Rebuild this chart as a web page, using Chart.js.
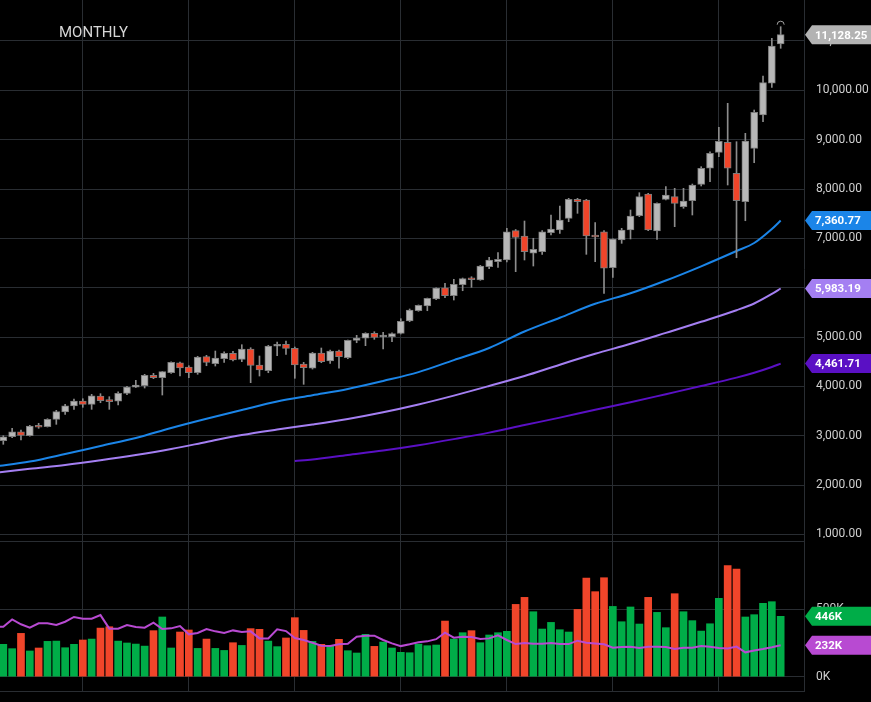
<!DOCTYPE html>
<html>
<head>
<meta charset="utf-8">
<script src="https://cdn.jsdelivr.net/npm/chart.js@4.4.1/dist/chart.umd.min.js"></script>
<style>
  html, body { margin: 0; padding: 0; background: #000; }
  #wrap { position: relative; width: 871px; height: 702px; overflow: hidden; background: #000; }
  #priceChart { position: absolute; left: 0; top: 0; }
  #volChart { position: absolute; left: 0; top: 538px; }
  #title { position: absolute; left: 59px; top: 25px; font: 15px Roboto, sans-serif; line-height: 15px; color: #d6d6d6; }
</style>
</head>
<body>
<div id="wrap">
  <canvas id="priceChart" width="871" height="538"></canvas>
  <canvas id="volChart" width="871" height="164"></canvas>
  <div id="title">MONTHLY</div>
</div>
<script>
// monthly candles, index 0 = first visible month
const opens = [2898, 2979, 3080, 2999, 3202, 3182, 3332, 3480, 3601, 3703,
  3636, 3804, 3717, 3697, 3859, 3981, 4013, 4224, 4175, 4276,
  4479, 4392, 4276, 4601, 4459, 4560, 4669, 4548, 4757, 4432,
  4317, 4812, 4852, 4771, 4453, 4366, 4676, 4514, 4716, 4580,
  4933, 4974, 5075, 5000, 5006, 5075, 5324, 5533, 5628, 5770,
  5999, 5837, 6060, 6190, 6155, 6425, 6526, 6561, 7155, 7047,
  6697, 6729, 7114, 7169, 7406, 7791, 7777, 7047, 7134, 6405,
  6966, 7169, 7459, 7899, 7149, 7791, 7844, 7641, 7763, 8095,
  8420, 8744, 8947, 8318, 7743, 8825, 9500, 10143, 10939];
const highs = [2999, 3149, 3115, 3210, 3251, 3344, 3514, 3636, 3743, 3749,
  3838, 3851, 3790, 3891, 4001, 4122, 4244, 4264, 4300, 4499,
  4493, 4418, 4609, 4629, 4716, 4702, 4710, 4844, 4783, 4615,
  4832, 4899, 4919, 4797, 4487, 4690, 4777, 4737, 4737, 4939,
  5034, 5087, 5107, 5095, 5087, 5371, 5568, 5650, 5790, 5999,
  6088, 6170, 6196, 6222, 6453, 6616, 6709, 7203, 7179, 7351,
  7001, 7155, 7473, 7655, 7811, 7811, 7791, 7317, 7155, 6990,
  7203, 7574, 7925, 7913, 7722, 8047, 8014, 8014, 8101, 8452,
  8756, 9251, 9737, 8959, 9129, 9601, 10290, 11055, 11290];
const lows = [2825, 2959, 2912, 2990, 3149, 3175, 3230, 3433, 3534, 3575,
  3534, 3668, 3534, 3622, 3831, 3975, 3966, 4155, 3824, 4264,
  4209, 4175, 4244, 4418, 4412, 4487, 4514, 4500, 4074, 4209,
  4276, 4621, 4649, 4163, 4041, 4350, 4479, 4467, 4366, 4560,
  4884, 4824, 4953, 4757, 4905, 5061, 5310, 5521, 5533, 5756,
  5797, 5750, 5938, 6007, 6149, 6384, 6413, 6520, 6324, 6561,
  6439, 6676, 7068, 7102, 7337, 7507, 6676, 6526, 5886, 6210,
  6899, 6987, 7439, 7155, 6980, 7777, 7236, 7609, 7473, 8061,
  8148, 8655, 8081, 6607, 7357, 8533, 9364, 10061, 10852];
const closes = [2979, 3080, 3007, 3196, 3170, 3332, 3486, 3607, 3703, 3636,
  3810, 3709, 3689, 3859, 3987, 4027, 4224, 4175, 4297, 4487,
  4372, 4276, 4595, 4487, 4574, 4669, 4534, 4757, 4426, 4331,
  4818, 4844, 4771, 4432, 4378, 4676, 4500, 4716, 4601, 4933,
  4980, 5075, 4994, 5020, 5067, 5318, 5547, 5642, 5784, 5993,
  5837, 6068, 6182, 6161, 6439, 6561, 6575, 7134, 7021, 6729,
  6778, 7134, 7189, 7372, 7791, 7743, 7047, 7027, 6393, 6986,
  7169, 7453, 7844, 7169, 7710, 7878, 7710, 7757, 8081, 8420,
  8724, 8967, 8420, 7763, 8973, 9555, 10155, 10899, 11128.25];

// volume in thousands
const volumes = [239, 207, 320, 190, 212, 261, 263, 214, 239, 271,
  278, 359, 369, 263, 249, 241, 226, 340, 441, 212,
  330, 345, 209, 278, 209, 194, 251, 231, 355, 350,
  263, 222, 286, 436, 342, 261, 239, 226, 276, 192,
  175, 313, 224, 256, 212, 180, 177, 241, 229, 234,
  411, 278, 325, 340, 251, 308, 325, 335, 534, 586,
  480, 352, 401, 347, 330, 497, 729, 628, 731, 519,
  406, 515, 389, 586, 475, 362, 613, 480, 414, 337,
  391, 579, 820, 795, 441, 458, 542, 554, 446];
// volume average, starts one month before the first candle
const volumeAvg = [369, 369, 423, 387, 362, 394, 394, 382, 406, 441, 428,
  428, 455, 355, 355, 382, 367, 362, 399, 352, 357,
  374, 313, 323, 352, 335, 323, 342, 330, 335, 283,
  283, 350, 337, 286, 271, 251, 229, 226, 239, 244,
  295, 303, 303, 271, 246, 226, 239, 254, 261, 277,
  325, 288, 295, 293, 278, 283, 305, 271, 241, 249,
  244, 244, 249, 241, 241, 266, 251, 246, 239, 214,
  219, 222, 212, 222, 222, 219, 204, 214, 214, 226,
  222, 212, 209, 222, 180, 194, 204, 217, 232];

// moving averages read at these month indexes
const maAt = [-1, 3, 7, 11, 15, 19, 23, 27, 31, 35, 39, 43, 47, 51, 55, 59, 63, 67, 71, 75, 79, 83, 85, 87, 88];
const fastMa = [2375, 2476, 2628, 2791, 2953, 3155, 3342, 3520, 3693, 3820, 3948, 4110, 4288,
  4532, 4777, 5111, 5391, 5673, 5886, 6145, 6433, 6743, 6905, 7189, 7360.77];
const midMa = [2243, 2328, 2405, 2501, 2608, 2730, 2872, 3014, 3125, 3226, 3338, 3474, 3632,
  3812, 4007, 4209, 4439, 4659, 4862, 5083, 5308, 5543, 5679, 5872, 5983.19];
const slowAt = [33, 35, 39, 43, 47, 51, 55, 59, 63, 67, 71, 75, 79, 83, 85, 87, 88];
const slowMa = [2487, 2517, 2608, 2699, 2807, 2930, 3062, 3216, 3366, 3526, 3678, 3841, 4005,
  4177, 4276, 4392, 4461.71];

const yearLines = [9, 21, 33, 45, 57, 69, 81];
const priceTicks = [1000, 2000, 3000, 4000, 5000, 6000, 7000, 8000, 9000, 10000, 11000];
const volumeTicks = [0, 500, 1000];

const GRID = '#292d32';
const TEXT = '#cfcfcf';
const isUp = closes.map((c, i) => c >= opens[i]);

Chart.defaults.font.family = 'Roboto';

const fmtPrice = v => v.toLocaleString('en-US', { minimumFractionDigits: 2, maximumFractionDigits: 2 });

// x axis shared by both panels (month index)
const xAxis = () => ({
  type: 'linear',
  min: -0.374,
  max: 90.64,
  offset: false,
  afterBuildTicks: s => { s.ticks = yearLines.map(v => ({ value: v })); },
  ticks: { display: false },
  grid: { color: GRID, drawTicks: false, offset: false },
  border: { display: false },
  afterFit: s => { s.height = 0; }
});

const rightAxis = (min, max, ticks, fmt) => ({
  position: 'right',
  min: min,
  max: max,
  beginAtZero: false,
  afterBuildTicks: s => { s.ticks = ticks.map(v => ({ value: v })); },
  ticks: { color: TEXT, font: { size: 12 }, padding: 12, callback: fmt },
  grid: { color: GRID, drawTicks: false },
  border: { color: GRID },
  afterFit: s => { s.width = 67; s.paddingTop = 0; s.paddingBottom = 0; }
});

// price tags on the right axis
function drawTag(chart, value, text, bg) {
  const ctx = chart.ctx;
  const y = chart.scales.y.getPixelForValue(value);
  const left = chart.chartArea.right;
  const h = 19;
  ctx.save();
  ctx.fillStyle = bg;
  ctx.beginPath();
  ctx.moveTo(left + 1, y);
  ctx.lineTo(left + 8, y - h / 2);
  ctx.lineTo(chart.width, y - h / 2);
  ctx.lineTo(chart.width, y + h / 2);
  ctx.lineTo(left + 8, y + h / 2);
  ctx.closePath();
  ctx.fill();
  ctx.fillStyle = '#ffffff';
  ctx.font = 'bold 11.5px Roboto';
  ctx.textBaseline = 'middle';
  ctx.fillText(text, left + 11, y + 1);
  ctx.restore();
}

const last = closes.length - 1;

new Chart(document.getElementById('priceChart'), {
  type: 'bar',
  data: {
    datasets: [
      {
        // candle bodies
        data: closes.map((c, i) => ({ x: i, y: [opens[i], c] })),
        backgroundColor: isUp.map(u => (u ? '#b7b7b7' : '#f0452a')),
        borderColor: '#7c7c7c',
        borderWidth: 1,
        borderSkipped: false,
        barThickness: 7,
        minBarLength: 2,
        grouped: false,
        order: 0
      },
      {
        // wicks
        data: closes.map((c, i) => ({ x: i, y: [lows[i], highs[i]] })),
        backgroundColor: '#8c8c8c',
        barThickness: 1,
        grouped: false,
        order: 1
      },
      {
        type: 'line',
        data: maAt.map((x, k) => ({ x: x, y: fastMa[k] })),
        borderColor: '#1b85e8',
        borderWidth: 2,
        pointRadius: 0,
        cubicInterpolationMode: 'monotone',
        order: 2
      },
      {
        type: 'line',
        data: maAt.map((x, k) => ({ x: x, y: midMa[k] })),
        borderColor: '#a47ff2',
        borderWidth: 2,
        pointRadius: 0,
        cubicInterpolationMode: 'monotone',
        order: 2
      },
      {
        type: 'line',
        data: slowAt.map((x, k) => ({ x: x, y: slowMa[k] })),
        borderColor: '#5a10c4',
        borderWidth: 2,
        pointRadius: 0,
        cubicInterpolationMode: 'monotone',
        order: 2
      }
    ]
  },
  options: {
    responsive: false,
    animation: false,
    layout: { padding: 0 },
    plugins: { legend: { display: false }, tooltip: { enabled: false } },
    scales: {
      x: xAxis(),
      y: rightAxis(926, 11831, priceTicks, v => fmtPrice(v))
    }
  },
  plugins: [{
    id: 'tags',
    afterDraw(chart) {
      // small marker above the last candle
      const ctx = chart.ctx;
      const px = chart.scales.x.getPixelForValue(last);
      const py = chart.scales.y.getPixelForValue(highs[last]) - 2;
      ctx.save();
      ctx.strokeStyle = '#a0a0a0';
      ctx.lineWidth = 1;
      ctx.beginPath();
      ctx.arc(px, py, 3.5, Math.PI, 2 * Math.PI);
      ctx.stroke();
      ctx.restore();

      drawTag(chart, closes[last], fmtPrice(closes[last]), '#b3b3b3');
      drawTag(chart, fastMa[fastMa.length - 1], fmtPrice(fastMa[fastMa.length - 1]), '#1b85e8');
      drawTag(chart, midMa[midMa.length - 1], fmtPrice(midMa[midMa.length - 1]), '#a47ff2');
      drawTag(chart, slowMa[slowMa.length - 1], fmtPrice(slowMa[slowMa.length - 1]), '#5a10c4');
    }
  }]
});

new Chart(document.getElementById('volChart'), {
  type: 'bar',
  data: {
    datasets: [
      {
        type: 'line',
        data: volumeAvg.map((v, k) => ({ x: k - 1, y: v })),
        borderColor: '#b84ad2',
        borderWidth: 2,
        pointRadius: 0,
        order: 0
      },
      {
        data: volumes.map((v, i) => ({ x: i, y: v })),
        backgroundColor: isUp.map(u => (u ? '#00ad48' : '#f0452a')),
        barThickness: 7,
        grouped: false,
        order: 1
      }
    ]
  },
  options: {
    responsive: false,
    animation: false,
    layout: { padding: { bottom: 11 } },
    plugins: { legend: { display: false }, tooltip: { enabled: false } },
    scales: {
      x: Object.assign(xAxis(), { border: { display: true, color: GRID } }),
      y: rightAxis(-105.6, 1024.4, volumeTicks, v => (v === 1000 ? '' : v + 'K'))
    }
  },
  plugins: [{
    id: 'volTags',
    afterDraw(chart) {
      drawTag(chart, volumes[last], volumes[last] + 'K', '#00ad48');
      drawTag(chart, volumeAvg[volumeAvg.length - 1], volumeAvg[volumeAvg.length - 1] + 'K', '#b84ad2');
    }
  }]
});
</script>
</body>
</html>
